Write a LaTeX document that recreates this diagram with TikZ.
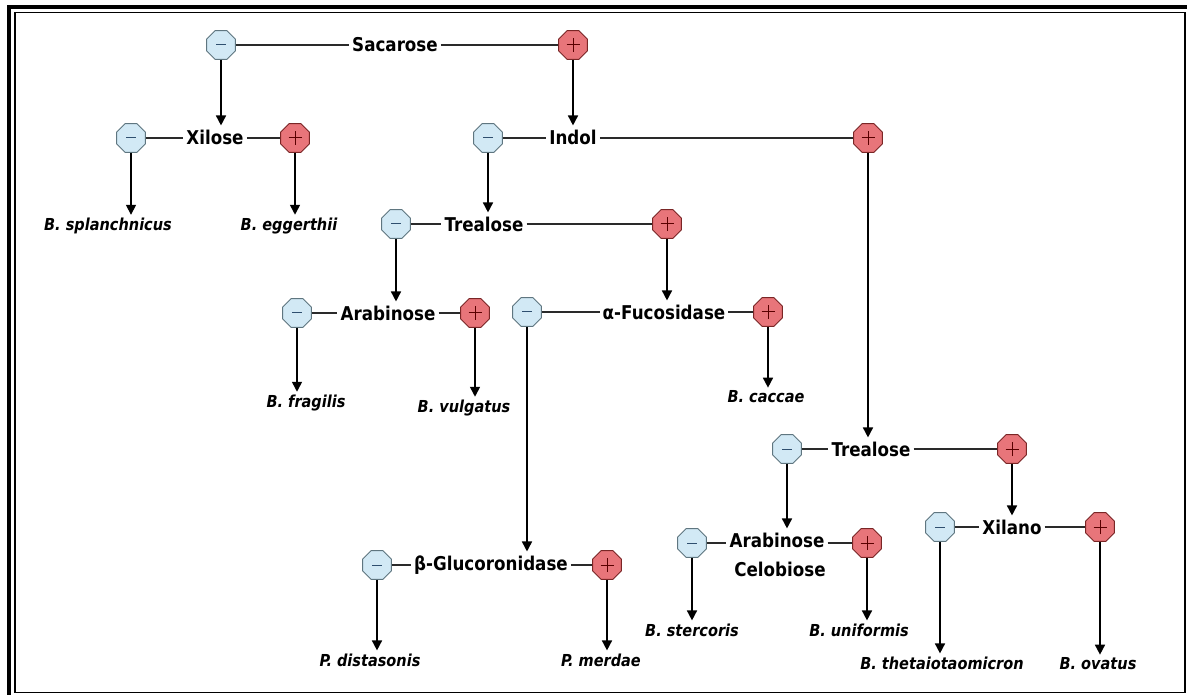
\documentclass[tikz,border=0pt]{standalone}
\usepackage{fontspec}
\setmainfont{DejaVu Sans}[FakeStretch=0.88]
\usetikzlibrary{shapes.geometric,arrows.meta}
\definecolor{minfill}{HTML}{D2E9F5}
\definecolor{mindraw}{HTML}{5F7680}
\definecolor{minsign}{HTML}{2F4F6F}
\definecolor{plusfill}{HTML}{E8757A}
\definecolor{plusdraw}{HTML}{7A2626}
\definecolor{plussign}{HTML}{5A0000}
\definecolor{linegray}{HTML}{2A2A2A}
\newcommand\lblfont{\fontsize{19}{22}\selectfont\bfseries}
\newcommand\spfont{\fontsize{16.5}{19}\selectfont\bfseries\itshape}
\tikzset{
  octo/.style={regular polygon, regular polygon sides=8, minimum size=31pt, inner sep=0pt, line width=0.9pt},
  negoct/.style={octo, fill=minfill, draw=mindraw,
    path picture={\draw[minsign, line width=1pt]
      ([xshift=-5pt]path picture bounding box.center) -- ([xshift=5pt]path picture bounding box.center);}},
  posoct/.style={octo, fill=plusfill, draw=plusdraw,
    path picture={\draw[plussign, line width=1pt]
      ([xshift=-6.5pt]path picture bounding box.center) -- ([xshift=6.5pt]path picture bounding box.center)
      ([yshift=-7pt]path picture bounding box.center) -- ([yshift=7pt]path picture bounding box.center);}},
  lbl/.style={font=\lblfont, inner sep=3pt},
  spec/.style={font=\spfont, inner sep=2pt},
  hline/.style={draw=linegray, line width=1.2pt},
  arr/.style={draw=black, line width=1.6pt, -{Triangle[length=10pt,width=10pt]}, shorten >=1pt},
}
\begin{document}
\begin{tikzpicture}[x=1pt,y=-1pt]
\useasboundingbox (0,0) rectangle (1187,695);
\fill[white] (0,0) rectangle (1187,695);
% frame
\draw[line width=4pt] (9,695) -- (9,7) -- (1187,7);
\draw[line width=1.5pt] (15,12.5) rectangle (1185,692.5);

% nodes
\node[negoct] (sacM) at (221,45) {};
\node[lbl] (sac) at (395,45) {Sacarose};
\node[posoct] (sacP) at (573,45) {};

\node[negoct] (xilM) at (131,138) {};
\node[lbl] (xil) at (215,137) {Xilose};
\node[posoct] (xilP) at (295,138) {};

\node[negoct] (indM) at (488,138) {};
\node[lbl] (ind) at (573,137) {Indol};
\node[posoct] (indP) at (868,138) {};

\node[negoct] (tr1M) at (396,224) {};
\node[lbl] (tr1) at (484,224) {Trealose};
\node[posoct] (tr1P) at (667,224) {};

\node[negoct] (ar1M) at (297,313) {};
\node[lbl] (ar1) at (388,313) {Arabinose};
\node[posoct] (ar1P) at (475,313) {};

\node[negoct] (fucM) at (527,312) {};
\node[lbl] (fuc) at (664,312) {α-Fucosidase};
\node[posoct] (fucP) at (768,312) {};

\node[negoct] (gluM) at (377,565) {};
\node[lbl] (glu) at (491,565) {β-Glucoronidase};
\node[posoct] (gluP) at (607,565) {};

\node[negoct] (tr2M) at (787,449) {};
\node[lbl] (tr2) at (871,449) {Trealose};
\node[posoct] (tr2P) at (1012,449) {};

\node[negoct] (ar2M) at (692,543) {};
\node[lbl] (ar2) at (777,540) {Arabinose};
\node[lbl] (cel) at (780,569) {Celobiose};
\node[posoct] (ar2P) at (867,543) {};

\node[negoct] (xnM) at (940,527) {};
\node[lbl] (xn) at (1012,527) {Xilano};
\node[posoct] (xnP) at (1100,527) {};

% species
\node[spec] (spl) at (108,226) {B. splanchnicus};
\node[spec] (egg) at (289,226) {B. eggerthii};
\node[spec] (fra) at (306,403) {B. fragilis};
\node[spec] (vul) at (464,408) {B. vulgatus};
\node[spec] (cac) at (766,397) {B. caccae};
\node[spec] (dis) at (370,660) {P. distasonis};
\node[spec] (mer) at (601,660) {P. merdae};
\node[spec] (ste) at (692,630) {B. stercoris};
\node[spec] (uni) at (859,630) {B. uniformis};
\node[spec] (the) at (942,663) {B. thetaiotaomicron};
\node[spec] (ova) at (1098,664) {B. ovatus};

% horizontal connectors
\foreach \a/\b/\c in {sacM/sac/sacP, xilM/xil/xilP, indM/ind/indP, tr1M/tr1/tr1P,
  ar1M/ar1/ar1P, fucM/fuc/fucP, gluM/glu/gluP, tr2M/tr2/tr2P, xnM/xn/xnP}{
  \draw[hline] (\a) -- (\a -| \b.west);
  \draw[hline] (\b.east |- \c) -- (\c);
}
\draw[hline] (ar2M) -- (ar2M -| ar2.west);
\draw[hline] (ar2.east |- ar2P) -- (ar2P);

% vertical arrows
\draw[arr] (sacM) -- (sacM |- xil.north);
\draw[arr] (sacP) -- (sacP |- ind.north);
\draw[arr] (xilM) -- (xilM |- spl.north);
\draw[arr] (xilP) -- (xilP |- egg.north);
\draw[arr] (indM) -- (indM |- tr1.north);
\draw[arr] (indP) -- (indP |- tr2.north);
\draw[arr] (tr1M) -- (tr1M |- ar1.north);
\draw[arr] (tr1P) -- (tr1P |- fuc.north);
\draw[arr] (ar1M) -- (ar1M |- fra.north);
\draw[arr] (ar1P) -- (ar1P |- vul.north);
\draw[arr] (fucM) -- (fucM |- glu.north);
\draw[arr] (fucP) -- (fucP |- cac.north);
\draw[arr] (gluM) -- (gluM |- dis.north);
\draw[arr] (gluP) -- (gluP |- mer.north);
\draw[arr] (tr2M) -- (tr2M |- ar2.north);
\draw[arr] (tr2P) -- (tr2P |- xn.north);
\draw[arr] (ar2M) -- (ar2M |- ste.north);
\draw[arr] (ar2P) -- (ar2P |- uni.north);
\draw[arr] (xnM) -- (xnM |- the.north);
\draw[arr] (xnP) -- (xnP |- ova.north);
\end{tikzpicture}
\end{document}
